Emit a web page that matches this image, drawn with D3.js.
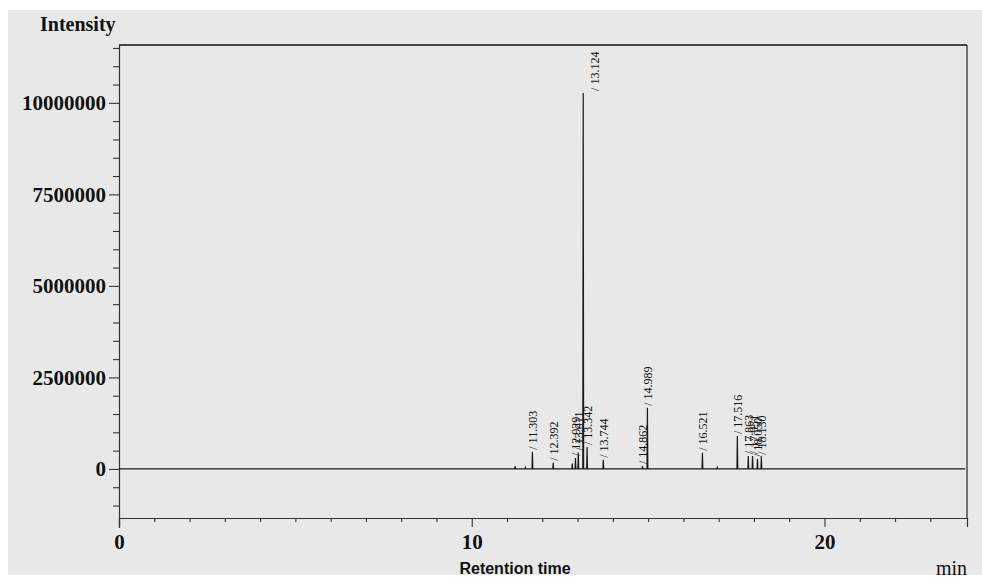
<!DOCTYPE html>
<html><head><meta charset="utf-8">
<script src="https://cdn.jsdelivr.net/npm/d3@7"></script>
<style>
html,body{margin:0;padding:0;background:#fff;}
svg{display:block;}
</style></head>
<body>
<svg id="chart" width="982" height="579"></svg>
<script>
// ---- data ----
const peakTimes   = [11.23, 11.52, 11.72, 12.31, 12.85, 12.94, 13.02, 13.16, 13.27, 13.73, 14.84, 14.98, 16.54, 16.96, 17.53, 17.84, 17.96, 18.10, 18.21];
const peakHeights = [80000, 40000, 470000, 170000, 150000, 300000, 450000, 10270000, 600000, 250000, 80000, 1670000, 440000, 40000, 900000, 350000, 350000, 270000, 330000];
const peakLabels  = ["", "", "11.303", "12.392", "", "12.929", "13.011", "13.124", "13.342", "13.744", "14.862", "14.989", "16.521", "", "17.516", "17.863", "17.951", "18.050", "18.130"];
const yMajorTicks = [0, 2500000, 5000000, 7500000, 10000000];
const yMinorTicks = [-1000000, -500000, 500000, 1000000, 1500000, 2000000, 3000000, 3500000, 4000000, 4500000, 5500000, 6000000, 6500000, 7000000, 8000000, 8500000, 9000000, 9500000, 10500000, 11000000, 11500000];
const xMajorTicks = [0, 10, 20];
const xMinorTicks = [1,2,3,4,5,6,7,8,9,11,12,13,14,15,16,17,18,19,21,22,23];
const xDomain = [0, 24.04];
const yDomain = [-1340000, 11580000];

const svg = d3.select("#chart");
const L = 119, R = 967, T = 45, B = 518;
const x = d3.scaleLinear().domain(xDomain).range([L, R]);
const y = d3.scaleLinear().domain(yDomain).range([B, T]);

// background
svg.append("rect").attr("x", 8).attr("y", 10).attr("width", 974).attr("height", 565).attr("fill", "#e8e8e8");

const serif = "'Liberation Serif','DejaVu Serif',serif";

// frame: top and right
svg.append("line").attr("x1", L).attr("x2", R).attr("y1", T).attr("y2", T).attr("stroke", "#111").attr("stroke-width", 1.3);
svg.append("line").attr("x1", R).attr("x2", R).attr("y1", T).attr("y2", B).attr("stroke", "#222").attr("stroke-width", 1.2);

// y axis
const yAxisMajor = svg.append("g").attr("transform", `translate(${L},0)`)
  .call(d3.axisLeft(y).tickValues(yMajorTicks).tickSize(10).tickPadding(3).tickFormat(d3.format("d")));
const yAxisMinor = svg.append("g").attr("transform", `translate(${L},0)`)
  .call(d3.axisLeft(y).tickValues(yMinorTicks).tickSize(6).tickFormat(""));
yAxisMinor.select(".domain").remove();
yAxisMajor.select(".domain").attr("d", `M0.5,${T}V${B + 10}`);

// x axis
const xAxisMajor = svg.append("g").attr("transform", `translate(0,${B})`)
  .call(d3.axisBottom(x).tickValues(xMajorTicks).tickSize(9).tickPadding(7).tickFormat(d3.format("d")));
const xAxisMinor = svg.append("g").attr("transform", `translate(0,${B})`)
  .call(d3.axisBottom(x).tickValues(xMinorTicks).tickSize(4).tickFormat(""));
xAxisMinor.select(".domain").remove();

svg.selectAll(".domain").attr("stroke", "#333").attr("stroke-width", 1.2);
svg.selectAll(".tick line").attr("stroke", "#333").attr("stroke-width", 1.1);
svg.selectAll(".tick text").attr("font-family", serif).attr("font-size", 21).attr("font-weight", "bold").attr("fill", "#111");

// chromatogram trace
const w = 0.012;
const pts = [[xDomain[0], 0]];
peakTimes.forEach((t, i) => { pts.push([t - w, 0], [t, peakHeights[i]], [t + w, 0]); });
pts.push([xDomain[1] - 0.05, 0]);
svg.append("path").datum(pts)
  .attr("d", d3.line().x(d => x(d[0])).y(d => y(d[1])))
  .attr("fill", "none").attr("stroke", "#1a1a1a").attr("stroke-width", 1.2);

// peak labels
const maxH = d3.max(peakHeights);
peakTimes.forEach((t, i) => {
  if (!peakLabels[i]) return;
  const px = x(t) + (peakHeights[i] === maxH ? 16 : 5);
  const py = y(peakHeights[i]) - 2;
  svg.append("text")
    .attr("transform", `translate(${px},${py}) rotate(-90)`)
    .attr("font-family", serif).attr("font-size", 12).attr("fill", "#111")
    .attr("text-anchor", "start")
    .text("/ " + peakLabels[i]);
});

// titles
svg.append("text").attr("x", 40).attr("y", 31).attr("font-family", serif).attr("font-size", 20).attr("font-weight", "bold").attr("fill", "#111").text("Intensity");
svg.append("text").attr("x", 967).attr("y", 575).attr("text-anchor", "end").attr("font-family", serif).attr("font-size", 20).attr("fill", "#111").text("min");
svg.append("text").attr("x", 515).attr("y", 574).attr("text-anchor", "middle").attr("font-family", "'Liberation Sans',Arial,sans-serif").attr("font-size", 16).attr("font-weight", "bold").attr("fill", "#111").text("Retention time");
</script>
</body></html>
